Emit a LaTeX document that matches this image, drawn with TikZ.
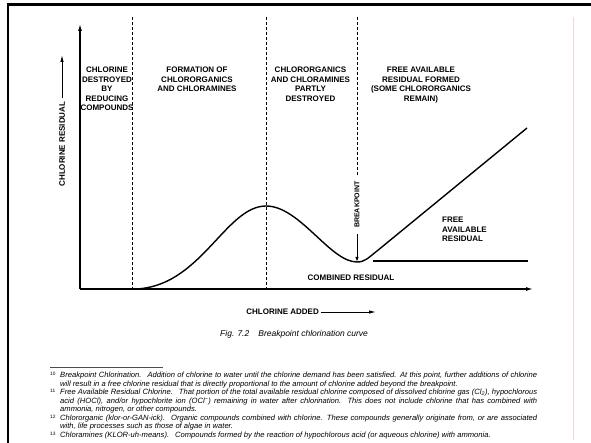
\documentclass[tikz,border=0pt]{standalone}
\usepackage{fontspec}
\setmainfont{Liberation Sans}
\usetikzlibrary{arrows.meta}
\begin{document}
\begin{tikzpicture}[x=1pt,y=-1pt,
  lab/.style={font=\fontsize{8}{9.5}\selectfont\bfseries, align=center, inner sep=0pt, anchor=north},
  ax/.style={line width=1.2pt, -{Latex[length=7pt,width=4pt]}},
  dashv/.style={line width=0.9pt, dash pattern=on 3pt off 2pt},
  curvel/.style={line width=1.4pt, line join=round},
  fn/.style={font=\fontsize{7.6}{8}\selectfont\itshape, inner sep=0pt, anchor=base west},
  fnum/.style={font=\fontsize{4.8}{5}\selectfont, inner sep=0pt, anchor=base west}]
\useasboundingbox (0,0) rectangle (591,443);
\fill[white] (0,0) rectangle (591,443);
% frame
\draw[line width=2.7pt] (7,4.5) -- (591,4.5);
\draw[line width=2.7pt] (8,3.2) -- (8,443);
\draw[line width=0.9pt, color={rgb,255:red,250;green,212;blue,212}] (573,17) -- (573,440);

% axes
\coordinate (O) at (80,289);
\coordinate (Ytop) at (80,24);
\coordinate (Xend) at (533,289);
\draw[ax] (O) -- (Ytop);
\draw[ax] (O) -- (Xend);

% dashed region dividers
\coordinate (d1t) at (132.5,17); \coordinate (d1b) at (132.5,289);
\coordinate (d2t) at (266,17); \coordinate (d2b) at (266,289);
\coordinate (d3t) at (357,17); \coordinate (d3b) at (357,176);
\draw[dashv] (d1t) -- (d1b);
\draw[dashv] (d2t) -- (d2b);
\draw[dashv] (d3t) -- (d3b);

% curve
\coordinate (c0) at (133,289);
\coordinate (peak) at (266,206);
\coordinate (bp) at (357,262);
\coordinate (c3) at (377,251);
\coordinate (cend) at (527,128);
\draw[curvel] (O) -- (c0) .. controls (200,289) and (225,206) .. (peak)
  .. controls (300,206) and (330,262) .. (bp)
  .. controls (365,262) and (368,258) .. (c3) -- (cend);

% combined residual level
\coordinate (cr1) at (373,261);
\coordinate (cr2) at (528,261);
\draw[line width=1.1pt] (cr1) -- (cr2);

% breakpoint
\node[font=\fontsize{7}{8}\selectfont\bfseries, rotate=90, anchor=west, inner sep=0pt] (bptxt) at (357,228) {BREAKPOINT};
\coordinate (bpa) at (357,234);
\draw[line width=0.9pt, -{Latex[length=5pt,width=3.5pt]}] (bpa) -- (bp);

% region labels
\node[lab] (r1) at (107,67) {CHLORINE\\DESTROYED\\BY\\REDUCING\\COMPOUNDS};
\node[lab] (r2) at (197,67) {FORMATION OF\\CHLORORGANICS\\AND CHLORAMINES};
\node[lab] (r3) at (310.5,67) {CHLORORGANICS\\AND CHLORAMINES\\PARTLY\\DESTROYED};
\node[lab] (r4) at (421,67) {FREE AVAILABLE\\RESIDUAL FORMED\\(SOME CHLORORGANICS\\REMAIN)};
\node[lab, align=left, anchor=north west] (far) at (442,217) {FREE\\AVAILABLE\\RESIDUAL};
\node[lab, anchor=center] (comb) at (351,278) {COMBINED RESIDUAL};

% axis titles
\node[lab, anchor=east] (cadd) at (319,312) {CHLORINE ADDED};
\coordinate (ca2) at (376,312);
\draw[line width=0.9pt, -{Latex[length=7pt,width=3.5pt]}] (cadd.east) ++(2,0) -- (ca2);
\node[lab, rotate=90, anchor=center] (cres) at (62,144) {CHLORINE RESIDUAL};
\coordinate (cr3) at (62,55);
\draw[line width=0.9pt, -{Latex[length=7pt,width=3.5pt]}] (cres.east) ++(0,-3) -- (cr3);

% caption
\node[font=\fontsize{8.5}{10}\selectfont\itshape, inner sep=0pt, anchor=west] (cap) at (220,334) {Fig. 7.2\hspace{9pt}Breakpoint chlorination curve};

% footnotes
\coordinate (fr1) at (50,367); \coordinate (fr2) at (163,367);
\draw[line width=0.5pt, black!70] (fr1) -- (fr2);
\node[fnum] (n10) at (50,375) {10};
\node[fn] (f1) at (60,377.5) {\makebox[477pt][s]{Breakpoint Chlorination.\hspace{6pt}Addition of chlorine to water until the chlorine demand has been satisfied. At this point, further additions of chlorine}};
\node[fn] (f2) at (60,386) {will result in a free chlorine residual that is directly proportional to the amount of chlorine added beyond the breakpoint.};
\node[fnum] (n11) at (50,392.5) {11};
\node[fn] (f3) at (60,394.5) {\makebox[477pt][s]{Free Available Residual Chlorine.\hspace{6pt}That portion of the total available residual chlorine composed of dissolved chlorine gas (Cl\textsubscript{2}), hypochlorous}};
\node[fn] (f4) at (60,403) {\makebox[477pt][s]{acid (HOCl), and/or hypochlorite ion (OCl\textsuperscript{−}) remaining in water after chlorination. This does not include chlorine that has combined with}};
\node[fn] (f5) at (60,411.5) {ammonia, nitrogen, or other compounds.};
\node[fnum] (n12) at (50,418) {12};
\node[fn] (f6) at (60,420) {\makebox[477pt][s]{Chlororganic (klor-or-GAN-ick).\hspace{6pt}Organic compounds combined with chlorine. These compounds generally originate from, or are associated}};
\node[fn] (f7) at (60,428.5) {with, life processes such as those of algae in water.};
\node[fnum] (n13) at (50,435) {13};
\node[fn] (f8) at (60,437) {Chloramines (KLOR-uh-means).\hspace{6pt}Compounds formed by the reaction of hypochlorous acid (or aqueous chlorine) with ammonia.};
\end{tikzpicture}
\end{document}
